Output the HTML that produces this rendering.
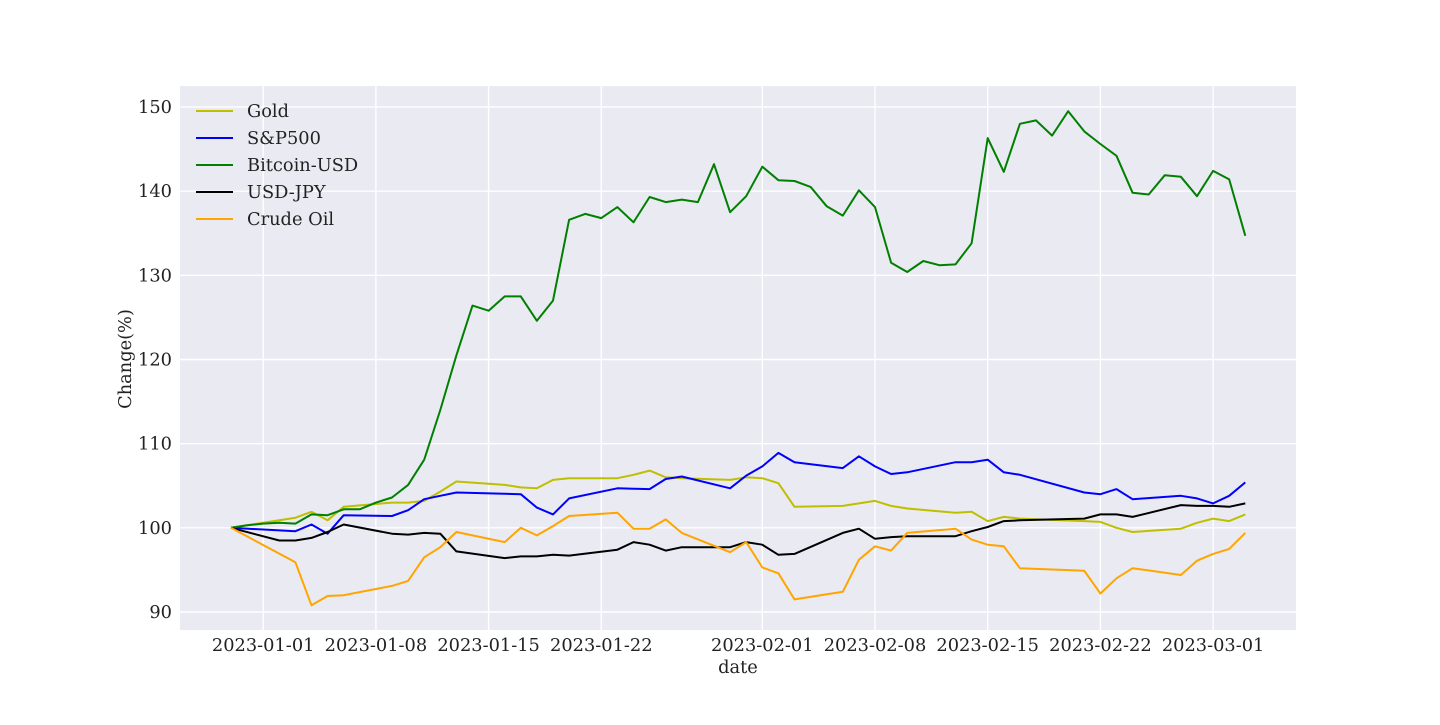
<!DOCTYPE html>
<html><head><meta charset="utf-8"><style>
html,body{margin:0;padding:0;background:#fff;}
svg text{font-family:"DejaVu Serif","Liberation Serif",serif;fill:#222;}
</style></head><body>
<svg id="chart" width="1440" height="720" xmlns="http://www.w3.org/2000/svg">
<rect x="180" y="86" width="1116" height="544" fill="#eaeaf2"/>
<g id="grid"></g>
<g id="series"></g>
<g id="yticks"></g>
<g id="xticks"></g>
<text x="738" y="673" font-size="17.8" text-anchor="middle">date</text>
<text x="0" y="0" font-size="17.8" text-anchor="middle" transform="translate(131,359) rotate(-90)">Change(%)</text>
<g id="legend"></g>
</svg>
<script>
const n = null;
const xTickDays = [2, 9, 16, 23, 33, 40, 47, 54, 61];
const xTickLabels = ["2023-01-01","2023-01-08","2023-01-15","2023-01-22","2023-02-01","2023-02-08","2023-02-15","2023-02-22","2023-03-01"];
const yTicks = [90, 100, 110, 120, 130, 140, 150];
const seriesNames = ["Gold","S&P500","Bitcoin-USD","USD-JPY","Crude Oil"];
const gold = [100,n,n,n,101.2,101.9,100.9,102.5,n,n,103.0,103.0,103.2,104.3,105.5,n,n,105.1,104.8,104.7,105.7,105.9,n,n,105.9,106.3,106.8,106.0,105.9,n,n,105.7,106.0,105.9,105.3,102.5,n,n,102.6,102.9,103.2,102.6,102.3,n,n,101.8,101.9,100.8,101.3,101.1,n,n,n,100.8,100.7,100.0,99.5,n,n,99.9,100.6,101.1,100.8,101.6];
const sp500 = [100,n,n,n,99.6,100.4,99.3,101.5,n,n,101.4,102.1,103.4,103.8,104.2,n,n,n,104.0,102.4,101.6,103.5,n,n,104.7,104.65,104.6,105.8,106.1,n,n,104.7,106.2,107.3,108.9,107.8,n,n,107.1,108.5,107.3,106.4,106.6,n,n,107.8,107.8,108.1,106.6,106.3,n,n,n,104.2,104.0,104.6,103.4,n,n,103.8,103.5,102.9,103.8,105.4];
const bitcoin = [100,100.3,100.5,100.6,100.5,101.6,101.5,102.2,102.2,103.0,103.6,105.1,108.1,114.0,120.5,126.4,125.8,127.5,127.5,124.6,127.0,136.6,137.3,136.8,138.1,136.3,139.3,138.7,139.0,138.7,143.2,137.5,139.4,142.9,141.3,141.2,140.5,138.2,137.1,140.1,138.1,131.5,130.4,131.7,131.2,131.3,133.8,146.3,142.3,148.0,148.4,146.6,149.5,147.1,145.6,144.2,139.8,139.6,141.9,141.7,139.4,142.4,141.4,134.7];
const usdjpy = [100,n,n,98.5,98.5,98.8,99.5,100.4,n,n,99.3,99.2,99.4,99.3,97.2,n,n,96.4,96.6,96.6,96.8,96.7,n,n,97.4,98.3,98.0,97.3,97.7,n,n,97.7,98.3,98.0,96.8,96.9,n,n,99.4,99.9,98.7,98.9,99.0,n,n,99.0,99.6,100.1,100.8,100.9,n,n,101.05,101.1,101.6,101.6,101.3,n,n,102.7,102.6,102.6,102.5,102.9];
const crude = [100,n,n,n,95.9,90.8,91.9,92.0,n,n,93.1,93.7,96.5,97.7,99.5,n,n,98.3,100.0,99.1,100.2,101.4,n,n,101.8,99.9,99.9,101.0,99.4,n,n,97.1,98.3,95.3,94.6,91.5,n,n,92.4,96.2,97.8,97.3,99.4,n,n,99.9,98.6,98.0,97.8,95.2,n,n,n,94.9,92.2,94.0,95.2,n,n,94.4,96.1,96.9,97.5,99.4];

const colors = ["#bfbf00","#0000ff","#008000","#000000","#ffa500"];
const allSeries = [gold, sp500, bitcoin, usdjpy, crude];
const NS = "http://www.w3.org/2000/svg";
function xScale(d){ return 231 + d*16.1; }
function yScale(v){ return 612 - (v-90)*8.417; }
function mk(tag, attrs, parent){ const e=document.createElementNS(NS,tag); for(const k in attrs) e.setAttribute(k,attrs[k]); parent.appendChild(e); return e; }

const grid=document.getElementById('grid');
const yt=document.getElementById('yticks');
const xt=document.getElementById('xticks');
yTicks.forEach(v=>{
  const l=mk('line',{x1:180,x2:1296,y1:yScale(v),y2:yScale(v),stroke:'#fff','stroke-width':1.4},grid);
  
  
  const t=mk('text',{x:172,y:yScale(v)+6,'font-size':17.8,'text-anchor':'end'},yt);
  t.textContent=v;
  
  
});
xTickDays.forEach((d,i)=>{
  const l=mk('line',{x1:xScale(d),x2:xScale(d),y1:86,y2:630,stroke:'#fff','stroke-width':1.4},grid);
  
  
  const t=mk('text',{x:xScale(d),y:651,'font-size':17.8,'text-anchor':'middle'},xt);
  t.textContent=xTickLabels[i];
  
  
});
const sg=document.getElementById('series');
allSeries.forEach((s,i)=>{
  const pts=[];
  s.forEach((v,d)=>{ if(v!==null) pts.push(xScale(d).toFixed(1)+','+yScale(v).toFixed(1)); });
  const p=mk('polyline',{points:pts.join(' '),fill:'none',stroke:colors[i],'stroke-width':2,'stroke-linejoin':'round'},sg);
  
  
});
const lg=document.getElementById('legend');
seriesNames.forEach((name,i)=>{
  const y=111+i*27;
  const l=mk('line',{x1:196,x2:233,y1:y,y2:y,stroke:colors[i],'stroke-width':2},lg);
  
  
  const t=mk('text',{x:247,y:y+6,'font-size':17.8},lg);
  t.textContent=name;
  
  
});
</script>
</body></html>
